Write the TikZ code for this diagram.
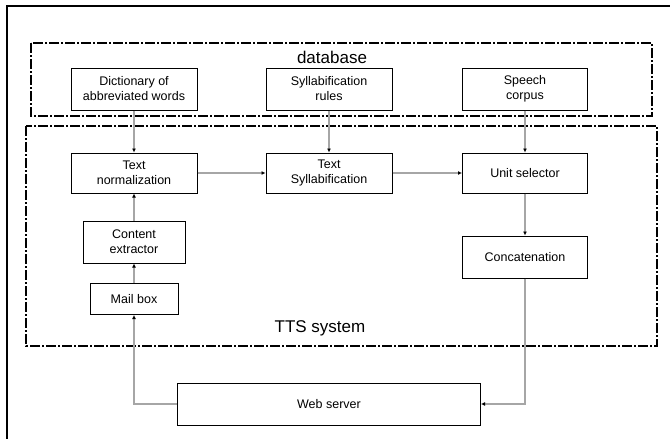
\documentclass[tikz,border=0pt]{standalone}
\usepackage{fontspec}
\setmainfont{Liberation Sans}
\usetikzlibrary{arrows.meta}

\begin{document}
\begin{tikzpicture}[x=1pt,y=-1pt,
    block/.style={draw, line width=1pt, align=center, font=\fontsize{12.5}{15}\selectfont, inner sep=0pt},
    flow/.style={draw=black!35, line width=1.6pt, -{Latex[length=4pt,width=4pt,color=black]}},
    region/.style={draw, line width=1.2pt, dash pattern=on 10pt off 2pt on 2pt off 2pt}]
    \useasboundingbox (0,0) rectangle (670,439);
    \draw [line width=1.2pt] (7,445) -- (7,6) -- (675,6);

    % database and TTS system regions
    \draw [region] (31,43) rectangle (652,116);
    \draw [region] (26,126) rectangle (657,346);
    \node (dblabel) at (332,57) {\fontsize{17}{17}\selectfont database};
    \node (ttslabel) at (320,328) {\fontsize{17}{17}\selectfont TTS system};

    \node [block, minimum width=126pt, minimum height=42pt] (dict) at (134,89) {Dictionary of\\abbreviated words};
    \node [block, minimum width=126pt, minimum height=42pt] (rules) at (329,89) {Syllabification\\rules};
    \node [block, minimum width=125pt, minimum height=42pt] (corpus) at (525,89) {Speech\\corpus};

    \node [block, minimum width=126pt, minimum height=40pt] (norm) at (134,173) {Text\\normalization};
    \node [block, minimum width=126pt, minimum height=40pt] (syll) at (329,173) {Text\\Syllabification};
    \node [block, minimum width=125pt, minimum height=40pt] (unit) at (525,173) {Unit selector};

    \node [block, minimum width=102pt, minimum height=42pt] (content) at (134,242) {Content\\extractor};
    \node [block, minimum width=88pt, minimum height=31pt] (mail) at (134,299) {Mail box};
    \node [block, minimum width=125pt, minimum height=42pt] (concat) at (525,257) {Concatenation};

    \node [block, minimum width=303pt, minimum height=42pt] (web) at (329,404) {Web server};

    \draw [flow] (dict) -- (norm);
    \draw [flow] (rules) -- (syll);
    \draw [flow] (corpus) -- (unit);
    \draw [flow] (norm) -- (syll);
    \draw [flow] (syll) -- (unit);
    \draw [flow] (unit) -- (concat);
    \draw [flow] (content) -- (norm);
    \draw [flow] (mail) -- (content);
    \draw [flow] (web.west) -| (mail.south);
    \draw [flow] (concat.south) |- (web.east);
\end{tikzpicture}
\end{document}
